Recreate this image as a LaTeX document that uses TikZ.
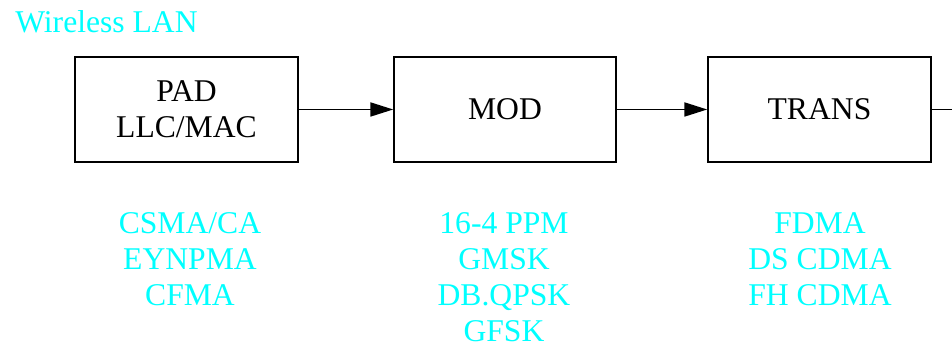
\documentclass[tikz,border=0pt]{standalone}
\usepackage{fontspec}
\setmainfont{Liberation Serif}
\usetikzlibrary{arrows.meta}
\definecolor{lancyan}{RGB}{0,255,255}
\begin{document}
\begin{tikzpicture}[>={Triangle[length=13pt, width=8pt]}, font=\fontsize{18}{20.5}\selectfont]
\useasboundingbox (0,0) rectangle (19.04,6.94);
\node[text=lancyan, anchor=west, inner sep=0] (title) at (0.3,6.5) {Wireless LAN};

\node[draw, rectangle, line width=0.9pt, minimum width=4.46cm, minimum height=2.1cm, align=center] (a) at (3.73,4.75) {PAD\\LLC/MAC};
\node[draw, rectangle, line width=0.9pt, minimum width=4.44cm, minimum height=2.1cm] (b) at (10.10,4.75) {MOD};
\node[draw, rectangle, line width=0.9pt, minimum width=4.46cm, minimum height=2.1cm] (c) at (16.39,4.75) {TRANS};
\coordinate (out) at (19.04,4.75);

\draw[->, line width=0.9pt] (a) -- (b);
\draw[->, line width=0.9pt] (b) -- (c);
\draw[line width=0.9pt] (c) -- (out);

\node[text=lancyan, anchor=north, inner sep=0, align=center] (amac) at (3.8,2.7) {CSMA/CA\\EYNPMA\\CFMA};
\node[text=lancyan, anchor=north, inner sep=0, align=center] (bmod) at (10.08,2.7) {16-4 PPM\\GMSK\\DB.QPSK\\GFSK};
\node[text=lancyan, anchor=north, inner sep=0, align=center] (ctrans) at (16.4,2.7) {FDMA\\DS CDMA\\FH CDMA};
\end{tikzpicture}
\end{document}
